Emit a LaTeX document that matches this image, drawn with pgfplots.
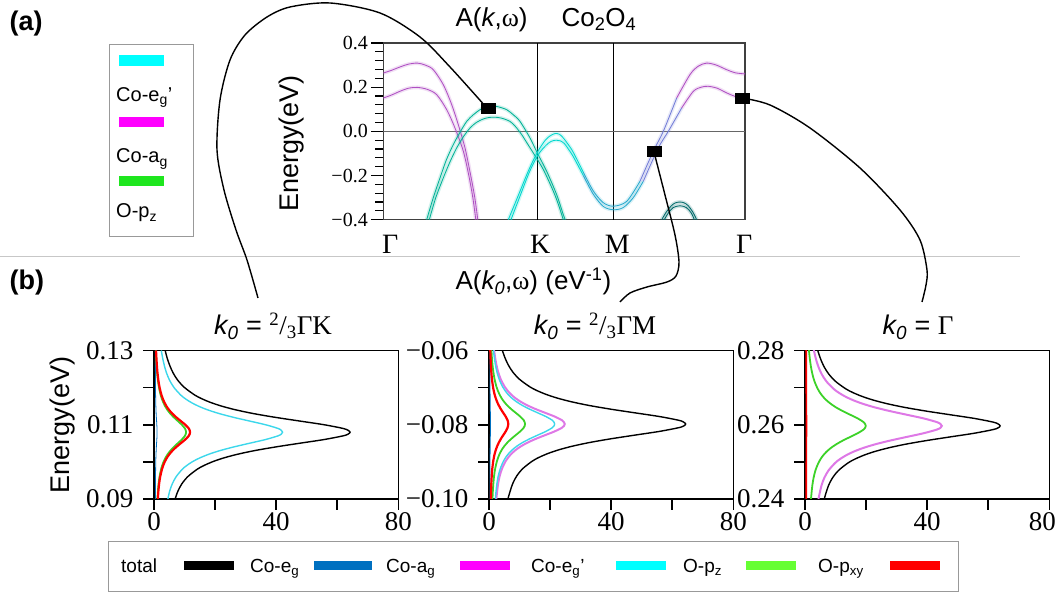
\documentclass[border=0pt]{standalone}
\usepackage{fontspec}
\setmainfont{Liberation Sans}
\newfontfamily\tms{Liberation Serif}
\usepackage{pgfplots}
\usepackage{pgfplotstable}
\pgfplotsset{compat=1.18}

\definecolor{bpurple}{RGB}{175,80,195}
\definecolor{bteal}{RGB}{0,178,150}
\definecolor{bcyan}{RGB}{0,215,205}
\definecolor{bblue}{RGB}{40,170,205}
\definecolor{bviol}{RGB}{115,125,215}
\definecolor{bdark}{RGB}{0,105,105}
\definecolor{ceg}{RGB}{0,112,192}
\definecolor{cag}{RGB}{255,0,255}
\definecolor{cagl}{RGB}{222,120,230}
\definecolor{cegp}{RGB}{0,255,255}
\definecolor{cegpl}{RGB}{60,215,235}
\definecolor{opz}{RGB}{102,255,51}
\definecolor{opzl}{RGB}{60,210,40}
\definecolor{legG}{RGB}{30,230,30}

% ---------- band structure lines (x = distance along path in px, y = eV)
\pgfplotstableread{
x y
0 0.264
8 0.276
17 0.292
25 0.304
34 0.309
42 0.300
50 0.279
60 0.211
68.4 0.121
75 0.030
81.7 -0.075
87 -0.19
91.5 -0.30
94.5 -0.40
}\Mone
\pgfplotstableread{
x y
0 0.151
8 0.164
17 0.182
25 0.195
34 0.199
44 0.190
53.4 0.166
63.4 0.098
71.7 0.015
80 -0.090
85.5 -0.20
89.5 -0.30
92.5 -0.40
}\Mtwo
\pgfplotstableread{
x y
43.4 -0.40
50 -0.30
56.7 -0.211
63 -0.13
70 -0.060
77 -0.002
83.4 0.045
90 0.075
96.7 0.098
102 0.110
108.4 0.116
115 0.111
123.4 0.098
130 0.075
136.7 0.045
146.7 -0.030
154 -0.098
163.4 -0.181
173.4 -0.287
180 -0.377
182 -0.40
}\Aout
\pgfplotstableread{
x y
46 -0.40
52.5 -0.30
60 -0.211
66.5 -0.14
73.4 -0.075
80 -0.025
86.7 0.015
93 0.040
100 0.056
106 0.063
111.7 0.064
118 0.060
126.7 0.045
132.5 0.020
138.4 -0.015
144 -0.055
150 -0.098
160 -0.173
170 -0.271
175 -0.33
180 -0.40
}\Ain
\pgfplotstableread{
x y
125 -0.40
135 -0.29
145 -0.18
154 -0.095
162 -0.040
167 -0.020
171.7 -0.010
176 -0.013
180 -0.030
185 -0.060
190 -0.095
200 -0.185
}\BoA
\pgfplotstableread{
x y
200 -0.185
210 -0.270
220 -0.323
230 -0.339
243.4 -0.317
256.7 -0.226
}\BoB
\pgfplotstableread{
x y
256.7 -0.226
270 -0.090
280 0.000
293.4 0.151
}\BoC
\pgfplotstableread{
x y
293.4 0.151
306.7 0.257
315 0.295
323.4 0.309
333 0.300
343.4 0.279
352 0.265
361.7 0.260
}\BoD
\pgfplotstableread{
x y
127.7 -0.40
137 -0.29
146.5 -0.18
155 -0.105
163 -0.062
168 -0.045
173 -0.040
177 -0.043
181 -0.055
185 -0.080
190 -0.115
200 -0.200
}\BiA
\pgfplotstableread{
x y
200 -0.200
210 -0.285
220 -0.340
230 -0.355
240 -0.345
250 -0.300
260 -0.226
}\BiB
\pgfplotstableread{
x y
260 -0.226
275 -0.075
285 0.000
298.4 0.106
}\BiC
\pgfplotstableread{
x y
298.4 0.106
310 0.181
318 0.200
325 0.204
334 0.195
343.4 0.174
352 0.158
361.7 0.151
}\BiD
\pgfplotstableread{
x y
278.4 -0.40
283 -0.365
288 -0.337
292 -0.324
296.7 -0.320
301 -0.324
305 -0.337
309.5 -0.365
313.4 -0.40
}\Cout
\pgfplotstableread{
x y
281 -0.40
285 -0.370
290 -0.345
296.7 -0.337
303 -0.345
308 -0.370
311 -0.40
}\Cin

% ---------- A(k0,w) curves
\pgfplotstableread{
y tot b c g r
0.090 6.93 0.46 4.55 1.13 1.27
0.092 7.77 0.47 5.09 1.27 1.43
0.094 9.05 0.48 5.94 1.48 1.66
0.096 11.04 0.50 7.24 1.81 2.03
0.098 14.12 0.53 9.26 2.31 2.60
0.099 16.31 0.55 10.69 2.67 3.00
0.100 19.07 0.58 12.50 3.12 3.50
0.101 22.60 0.61 14.82 3.70 4.15
0.102 27.09 0.65 17.77 4.43 4.98
0.103 32.74 0.71 21.47 5.36 6.02
0.104 39.68 0.77 26.02 6.49 7.29
0.105 47.57 0.84 31.20 7.78 8.74
0.106 55.60 0.92 36.46 9.09 10.22
0.107 61.89 0.98 40.58 10.12 11.38
0.1075 63.62 0.99 41.72 10.41 11.69
0.108 64.20 1.00 42.10 10.50 11.80
0.1085 63.56 0.99 41.68 10.40 11.68
0.109 61.95 0.98 40.63 10.13 11.39
0.110 55.73 0.92 36.54 9.11 10.24
0.111 47.70 0.85 31.28 7.80 8.77
0.112 39.68 0.77 26.02 6.49 7.29
0.113 32.61 0.70 21.39 5.33 5.99
0.114 26.84 0.65 17.60 4.39 4.93
0.115 22.21 0.61 14.57 3.63 4.08
0.116 18.55 0.57 12.17 3.03 3.41
0.117 15.66 0.55 10.27 2.56 2.88
0.118 13.35 0.52 8.76 2.18 2.45
0.120 10.02 0.49 6.57 1.64 1.84
0.122 7.77 0.47 5.09 1.27 1.43
0.124 6.23 0.46 4.08 1.02 1.14
0.126 5.14 0.45 3.37 0.84 0.94
0.128 4.30 0.44 2.82 0.70 0.79
0.130 3.66 0.43 2.40 0.60 0.67
}\TA
\pgfplotstableread{
y tot b m c g r
-0.1008 5.92 0.32 2.28 1.98 1.09 0.58
-0.0998 6.25 0.32 2.41 2.09 1.14 0.61
-0.0978 6.96 0.32 2.68 2.32 1.27 0.68
-0.0958 7.79 0.32 3.00 2.60 1.43 0.76
-0.0938 9.08 0.33 3.50 3.03 1.66 0.89
-0.0918 11.08 0.33 4.27 3.70 2.03 1.08
-0.0898 14.17 0.34 5.46 4.73 2.60 1.39
-0.0888 16.36 0.35 6.30 5.46 3.00 1.60
-0.0878 19.13 0.36 7.37 6.39 3.50 1.87
-0.0868 22.67 0.37 8.73 7.57 4.15 2.22
-0.0858 27.18 0.38 10.47 9.07 4.98 2.66
-0.0848 32.84 0.40 12.65 10.97 6.02 3.21
-0.0838 39.80 0.42 15.33 13.29 7.29 3.89
-0.0828 47.72 0.45 18.38 15.93 8.74 4.67
-0.0818 55.77 0.47 21.48 18.62 10.22 5.46
-0.0808 62.08 0.49 23.91 20.73 11.38 6.07
-0.0803 63.82 0.50 24.58 21.31 11.69 6.24
-0.0798 64.40 0.50 24.80 21.50 11.80 6.30
-0.0793 63.76 0.50 24.55 21.29 11.68 6.24
-0.0788 62.15 0.49 23.93 20.75 11.39 6.08
-0.0778 55.90 0.47 21.53 18.66 10.24 5.47
-0.0768 47.85 0.45 18.43 15.97 8.77 4.68
-0.0758 39.80 0.42 15.33 13.29 7.29 3.89
-0.0748 32.72 0.40 12.60 10.92 5.99 3.20
-0.0738 26.92 0.38 10.37 8.99 4.93 2.63
-0.0728 22.28 0.37 8.58 7.44 4.08 2.18
-0.0718 18.61 0.36 7.17 6.21 3.41 1.82
-0.0708 15.71 0.35 6.05 5.25 2.88 1.54
-0.0698 13.40 0.34 5.16 4.47 2.45 1.31
-0.0678 10.05 0.33 3.87 3.35 1.84 0.98
-0.0658 7.79 0.32 3.00 2.60 1.43 0.76
-0.0638 6.25 0.32 2.41 2.09 1.14 0.61
-0.0618 5.15 0.32 1.98 1.72 0.94 0.50
-0.0598 4.31 0.31 1.66 1.44 0.79 0.42
-0.0588 3.99 0.31 1.54 1.33 0.73 0.39
}\TB
\pgfplotstableread{
y tot m g r
0.2387 5.88 4.12 1.83 0.41
0.2397 6.20 4.35 1.93 0.41
0.2417 6.90 4.84 2.15 0.41
0.2437 7.73 5.42 2.41 0.41
0.2457 9.01 6.32 2.81 0.41
0.2477 10.99 7.71 3.42 0.42
0.2497 14.06 9.86 4.38 0.42
0.2507 16.23 11.38 5.05 0.43
0.2517 18.98 13.31 5.91 0.43
0.2527 22.49 15.77 7.00 0.44
0.2537 26.97 18.91 8.40 0.44
0.2547 32.59 22.85 10.15 0.45
0.2557 39.49 27.69 12.30 0.46
0.2567 47.35 33.20 14.75 0.47
0.2577 55.34 38.80 17.23 0.49
0.2587 61.60 43.19 19.18 0.50
0.2592 63.32 44.40 19.72 0.50
0.2597 63.90 44.80 19.90 0.50
0.2602 63.26 44.35 19.70 0.50
0.2607 61.66 43.23 19.20 0.50
0.2617 55.47 38.89 17.27 0.49
0.2627 47.48 33.29 14.79 0.47
0.2637 39.49 27.69 12.30 0.46
0.2647 32.46 22.76 10.11 0.45
0.2657 26.71 18.73 8.32 0.44
0.2667 22.11 15.50 6.89 0.43
0.2677 18.47 12.95 5.75 0.43
0.2687 15.59 10.93 4.86 0.42
0.2697 13.29 9.32 4.14 0.42
0.2717 9.97 6.99 3.10 0.42
0.2737 7.73 5.42 2.41 0.41
0.2757 6.20 4.35 1.93 0.41
0.2777 5.11 3.58 1.59 0.41
0.2797 4.28 3.00 1.33 0.41
0.2807 3.96 2.78 1.23 0.41
}\TC

\newcommand\band[2]{%
  \addplot[draw=#1, line width=3.8pt, opacity=0.18, smooth] table {#2};
  \addplot[draw=#1, line width=0.85pt, smooth] table {#2};}

\pgfplotsset{
  bax/.style={at={(#1pt,94pt)}, anchor=south west, scale only axis,
    width=244.3pt, height=148.5pt, xmin=0, xmax=80,
    xtick={0,40,80}, xticklabels={0,40,80}, minor xtick={20,60},
    xtick pos=left, ytick pos=left, tick align=outside,
    major tick length=11pt, minor tick length=11pt,
    axis line style={line width=1.6pt},
    tick style={line width=1.6pt, black},
    tick label style={font=\tms\fontsize{27}{27}\selectfont},
    xticklabel style={yshift=1pt},
    yticklabel style={xshift=-6pt}}
}

\newcommand\fbig{\fontsize{27}{30}\selectfont}
\newcommand\fmid{\fontsize{20}{22}\selectfont}

\begin{document}
\begin{tikzpicture}[x=1pt,y=1pt]
\useasboundingbox (0,0) rectangle (1058,593);

% separator
\draw[black!22, line width=1.3pt] (0,336.3) -- (1020,336.3);

% ---------------- panel (a)
\begin{axis}[at={(383.3pt,373.3pt)}, anchor=south west, scale only axis,
  width=361.7pt, height=176.7pt, xmin=0, xmax=361.7, ymin=-0.4, ymax=0.4,
  axis line style={line width=1.1pt, draw=black!75},
  xtick={7,157,234,361}, xticklabels={Γ,K,M,Γ}, xtick style={draw=none},
  xtick pos=left,
  ytick={-0.4,-0.2,0,0.2,0.4}, yticklabels={−0.4,−0.2,0.0,0.2,0.4},
  minor y tick num=4, ytick pos=left, tick align=outside,
  ytick style={line width=1.1pt, black},
  major tick length=12pt, minor tick length=8pt,
  yticklabel style={font=\tms\fontsize{20}{20}\selectfont},
  xticklabel style={font=\tms\fontsize{28}{28}\selectfont}]
\addplot[black, line width=0.8pt] coordinates {(154,-0.4) (154,0.4)};
\addplot[black, line width=0.8pt] coordinates {(230,-0.4) (230,0.4)};
\addplot[black!60, line width=1.3pt] coordinates {(0,0) (361.7,0)};
\band{bpurple}{\Mone}
\band{bpurple}{\Mtwo}
\band{bteal}{\Aout}
\band{bteal}{\Ain}
\band{bcyan}{\BoA}
\band{bblue}{\BoB}
\band{bviol}{\BoC}
\band{bpurple}{\BoD}
\band{bcyan}{\BiA}
\band{bblue}{\BiB}
\band{bviol}{\BiC}
\band{bpurple}{\BiD}
\band{bdark}{\Cout}
\band{bdark}{\Cin}
\end{axis}
\begin{axis}[at={(383.3pt,373.3pt)}, anchor=south west, scale only axis,
  width=361.7pt, height=176.7pt, xmin=0, xmax=361.7, ymin=-0.4, ymax=0.4,
  hide axis, clip=false]
\addplot[only marks, mark=square*, mark size=5pt,
  mark options={xscale=1.35, fill=black, draw=black}]
  coordinates {(105,0.1057) (271,-0.0903) (359,0.151)};
\end{axis}

\node[rotate=90, font=\fbig] at (292,449.5) {Energy(eV)};
\node[anchor=base west, font=\fontsize{26}{28}\selectfont] at (452,566.3)
  {A(\textit{k},{\tms ω})};
\node[anchor=base west, font=\fontsize{26}{28}\selectfont] at (558,566.3)
  {Co\textsubscript{2}O\textsubscript{4}};
\node[anchor=base west, font=\bfseries\fbig] at (6,562) {(a)};

% legend (a)
\draw[black!40, line width=0.9pt] (109,357) rectangle (193,549);
\fill[cegp] (119,527.3) rectangle (164,538);
\fill[cag] (119,465.7) rectangle (164,476.3);
\fill[legG] (119,407.3) rectangle (164,417.3);
\node[anchor=base west, font=\fmid, inner sep=0pt] at (116,491.3) {Co-e\textsubscript{g}’};
\node[anchor=base west, font=\fmid, inner sep=0pt] at (116,430) {Co-a\textsubscript{g}};
\node[anchor=base west, font=\fmid, inner sep=0pt] at (116,375) {O-p\textsubscript{z}};

% ---------------- panel (b)
\node[anchor=base west, font=\bfseries\fbig] at (6,303) {(b)};
\node[anchor=base west, font=\fontsize{26}{28}\selectfont] at (452,303)
  {A(\textit{k\textsubscript{0}},{\tms ω}) (eV\textsuperscript{-1})};
\node[rotate=90, font=\fbig] at (63,168) {Energy(eV)};
\node[anchor=base, font=\fbig] at (273,258)
  {\textit{k\textsubscript{0}} = \textsuperscript{\tms 2}{\tms /}\textsubscript{\tms 3}{\tms ΓK}};
\node[anchor=base, font=\fbig] at (595,258)
  {\textit{k\textsubscript{0}} = \textsuperscript{\tms 2}{\tms /}\textsubscript{\tms 3}{\tms ΓM}};
\node[anchor=base, font=\fbig] at (918,258)
  {\textit{k\textsubscript{0}} = {\tms Γ}};

\begin{axis}[bax=154, ymin=0.09, ymax=0.13, ytick={0.09,0.11,0.13},
  yticklabels={0.09,0.11,0.13}, minor ytick={0.10,0.12}]
\addplot[ceg, line width=0.8pt, smooth] table[x=b, y=y] {\TA};
\addplot[cegpl, line width=1.4pt, smooth] table[x=c, y=y] {\TA};
\addplot[opzl, line width=1.8pt, smooth] table[x=g, y=y] {\TA};
\addplot[red, line width=2.2pt, smooth] table[x=r, y=y] {\TA};
\addplot[black, line width=1.4pt, smooth] table[x=tot, y=y] {\TA};
\end{axis}

\begin{axis}[bax=489, ymin=-0.10, ymax=-0.06, ytick={-0.10,-0.08,-0.06},
  yticklabels={−0.10,−0.08,−0.06}, minor ytick={-0.09,-0.07}]
\addplot[ceg, line width=0.8pt, smooth] table[x=b, y=y] {\TB};
\addplot[cagl, line width=2pt, smooth] table[x=m, y=y] {\TB};
\addplot[cegpl, line width=1.4pt, smooth] table[x=c, y=y] {\TB};
\addplot[opzl, line width=1.8pt, smooth] table[x=g, y=y] {\TB};
\addplot[red, line width=2.2pt, smooth] table[x=r, y=y] {\TB};
\addplot[black, line width=1.4pt, smooth] table[x=tot, y=y] {\TB};
\end{axis}

\begin{axis}[bax=805, ymin=0.24, ymax=0.28, ytick={0.24,0.26,0.28},
  yticklabels={0.24,0.26,0.28}, minor ytick={0.25,0.27},
  xticklabels={0,40,{\hspace*{-14pt}80}}]
\addplot[cagl, line width=2pt, smooth] table[x=m, y=y] {\TC};
\addplot[opzl, line width=1.8pt, smooth] table[x=g, y=y] {\TC};
\addplot[red, line width=1.6pt, smooth] table[x=r, y=y] {\TC};
\addplot[black, line width=1.4pt, smooth] table[x=tot, y=y] {\TC};
\end{axis}

% legend (b)
\draw[black!40, line width=0.9pt] (108,2) rectangle (958,52);
\begin{scope}[every node/.style={anchor=base west, font=\fontsize{19}{20}\selectfont, inner sep=0pt}]
\node at (121,20) {total};
\fill[black] (184,23) rectangle (234,32);
\node at (250,20) {Co-e\textsubscript{g}};
\fill[ceg] (314,23) rectangle (372,32);
\node at (386,20) {Co-a\textsubscript{g}};
\fill[cag] (460,23) rectangle (510,32);
\node at (531,20) {Co-e\textsubscript{g}’};
\fill[cegp] (616,23) rectangle (666,32);
\node at (683,20) {O-p\textsubscript{z}};
\fill[opz] (746,23) rectangle (796,32);
\node at (818,20) {O-p\textsubscript{xy}};
\fill[red] (890,23) rectangle (940,32);
\end{scope}

% connectors
\draw[black, line width=1.4pt] plot[smooth] coordinates {(486,486) (450,526) (420,556) (380,580) (330,590) (290,586) (267,576) (245,558) (230,533) (220,493) (217,443) (224,403) (236,363) (247,333) (258,295)};
\draw[black, line width=1.4pt] plot[smooth] coordinates {(654,441) (665,398) (675,358) (679,331) (676,317) (667,311) (647,306) (630,300) (620,291)};
\draw[black, line width=1.4pt] plot[smooth] coordinates {(742,495) (770,488) (810,465) (860,425) (900,383) (920,353) (927,323) (926,308) (922,291)};
\end{tikzpicture}
\end{document}
